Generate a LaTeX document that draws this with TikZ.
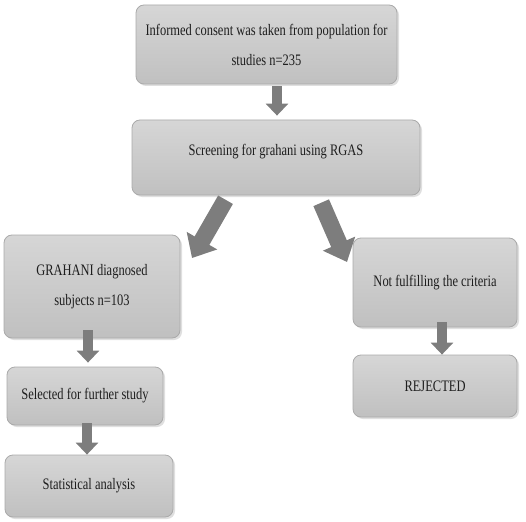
\documentclass[tikz,border=0pt]{standalone}
\usepackage{fontspec}
\setmainfont{Liberation Serif}[FakeStretch=0.78]
\usepackage{tikz}
\usetikzlibrary{arrows.meta, positioning, calc, shadows}
\definecolor{BoxTop}{RGB}{214, 214, 214}
\definecolor{BoxBottom}{RGB}{192, 192, 192}
\definecolor{BoxEdge}{RGB}{170, 170, 170}
\definecolor{ArrowGray}{RGB}{125, 125, 125}
\definecolor{TextDark}{RGB}{30, 30, 30}

\begin{document}
\begin{tikzpicture}[x=1pt, y=1pt,
    flowbox/.style={draw=BoxEdge, line width=0.8pt, rounded corners=8pt,
      top color=BoxTop, bottom color=BoxBottom, align=center,
      text=TextDark, font=\fontsize{16}{30}\selectfont, inner sep=2pt,
      drop shadow={shadow xshift=2pt, shadow yshift=-2pt, opacity=0.25, fill=gray}},
    downarrow/.style={draw=ArrowGray, line width=10pt,
      -{Triangle[width=22pt, length=12pt]}},
    bigarrow/.style={draw=ArrowGray, line width=17pt,
      -{Triangle[width=34pt, length=20pt]}}]
    \useasboundingbox (0,0) rectangle (526,-521);

    % Cajas
    \node[flowbox, minimum width=261, minimum height=79] (consent) at (266.5,-44.5)
      {Informed consent was taken from population for\\ studies n=235};
    \node[flowbox, minimum width=288, minimum height=75, text depth=16pt] (screen) at (276,-157.5)
      {Screening for grahani using RGAS};
    \node[flowbox, minimum width=176, minimum height=103] (diagnosed) at (92,-286.5)
      {GRAHANI diagnosed\\ subjects n=103};
    \node[flowbox, minimum width=164, minimum height=89] (notfit) at (435,-282.5)
      {Not fulfilling the criteria};
    \node[flowbox, minimum width=156, minimum height=58] (selected) at (85,-396)
      {Selected for further study};
    \node[flowbox, minimum width=168, minimum height=62] (stats) at (89,-486)
      {Statistical analysis};
    \node[flowbox, minimum width=164, minimum height=62] (rejected) at (435,-386)
      {REJECTED};

    % Flechas
    \coordinate (lefttip) at (192,-258);
    \coordinate (righttip) at (347,-262);
    \draw[downarrow, shorten <=2pt, shorten >=4pt] (consent.south -| 277,0) -- (screen.north -| 277,0);
    \draw[bigarrow, shorten <=5pt] ([xshift=-48pt]screen.south) -- (lefttip);
    \draw[bigarrow, shorten <=8pt] ([xshift=42pt]screen.south) -- (righttip);
    \draw[downarrow, shorten <=-8pt, shorten >=4pt] (diagnosed.south -| 88,0) -- (selected.north -| 88,0);
    \draw[downarrow, shorten <=-2pt] (selected.south -| 87,0) -- (stats.north -| 87,0);
    \draw[downarrow, shorten <=-5pt] (notfit.south -| 442,0) -- (rejected.north -| 442,0);
  \end{tikzpicture}
\end{document}
